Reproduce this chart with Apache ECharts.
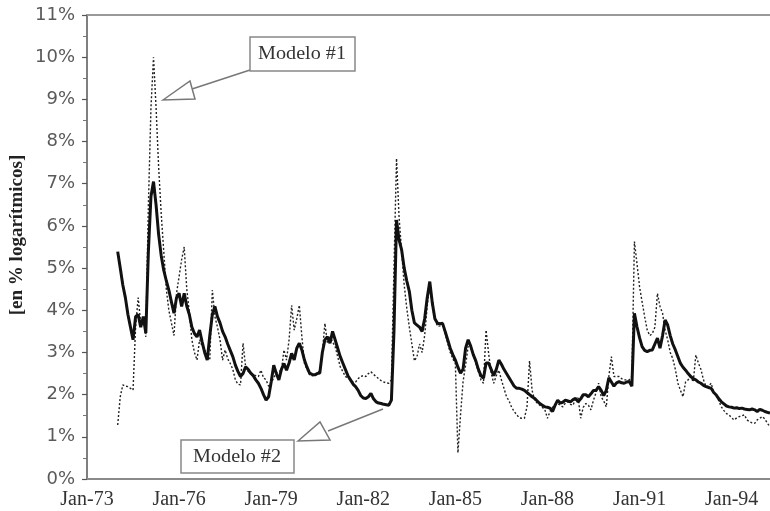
<!DOCTYPE html>
<html>
<head>
<meta charset="utf-8">
<script src="https://cdn.jsdelivr.net/npm/echarts@6/dist/echarts.min.js"></script>
<style>
  html, body { margin: 0; padding: 0; background: #fff; }
  #main { width: 770px; height: 511px; }
</style>
</head>
<body>
<div id="main"></div>
<script>
// month index counted from Jan-73 (0)
var startMonth = 12;
var endMonth = 267;
var xLabels = ["Jan-73", "Jan-76", "Jan-79", "Jan-82", "Jan-85", "Jan-88", "Jan-91", "Jan-94"];

// Modelo #1 (linea punteada), mensual desde Jan-74
var modelo1 = [
  1.28, 1.95, 2.23, 2.2, 2.19, 2.15, 2.11, 3.6, 4.3, 3.7, 3.8, 3.37,
  6.5, 8.8, 10.0, 8.8, 7.4, 6.3, 5.4, 4.5, 4.0, 3.7, 3.4, 4.4,
  4.8, 5.2, 5.5, 4.5, 3.95, 3.3, 3.0, 2.82, 3.3, 3.15, 3.06, 2.9,
  2.82, 4.48, 3.85, 3.6, 3.3, 2.82, 3.06, 2.85, 2.74, 2.6, 2.35, 2.25,
  2.23, 3.22, 2.66, 2.55, 2.51, 2.47, 2.45, 2.43, 2.58, 2.4, 2.35, 2.2,
  2.27, 2.4, 2.51, 2.55, 2.58, 3.06, 2.82, 3.3, 4.12, 3.53, 3.8, 4.12,
  3.37, 2.74, 2.6, 2.47, 2.45, 2.43, 2.5, 2.58, 3.0, 3.69, 3.22, 3.37,
  3.25, 3.14, 2.9, 2.66, 2.55, 2.43, 2.4, 2.35, 2.3, 2.3, 2.38, 2.43,
  2.45, 2.43, 2.5, 2.54, 2.48, 2.43, 2.38, 2.33, 2.3, 2.28, 2.27, 2.35,
  5.0, 7.6, 6.2, 5.4, 4.6, 4.05, 3.6, 3.2, 2.8, 2.9, 3.2, 3.0,
  3.4, 4.1, 4.64, 4.09, 3.8, 3.62, 3.63, 3.65, 3.45, 3.22, 3.0, 2.85,
  2.74, 0.62, 1.5, 2.3, 2.7, 3.14, 3.1, 2.95, 2.74, 2.55, 2.35, 2.27,
  3.53, 2.98, 2.51, 2.27, 2.45, 2.58, 2.35, 2.15, 1.95, 1.85, 1.7, 1.6,
  1.52, 1.45, 1.44, 1.44, 1.71, 2.8, 2.1, 1.87, 1.8, 1.75, 1.7, 1.64,
  1.44, 1.6, 1.7, 1.75, 1.79, 1.75, 1.71, 1.8, 1.83, 1.77, 1.75, 1.9,
  1.92, 1.44, 1.7, 1.79, 1.75, 1.64, 1.87, 2.05, 2.27, 1.95, 1.85, 1.71,
  2.43, 2.9, 2.43, 2.43, 2.43, 2.38, 2.35, 2.35, 2.35, 2.43, 5.63, 5.11,
  4.56, 4.2, 3.85, 3.53, 3.4, 3.45, 3.6, 4.4, 4.09, 3.93, 3.53, 3.3,
  3.0, 2.85, 2.6, 2.27, 2.1, 1.95, 2.3, 2.35, 2.43, 2.3, 2.94, 2.75,
  2.6, 2.35, 2.19, 2.2, 2.27, 2.05, 1.99, 1.85, 1.71, 1.62, 1.55, 1.52,
  1.45, 1.4, 1.45, 1.48, 1.5, 1.52, 1.4, 1.36, 1.33, 1.32, 1.4, 1.44,
  1.48, 1.42, 1.32, 1.24
];

// Modelo #2 (linea gruesa), mensual desde Jan-74
var modelo2 = [
  5.39, 5.0, 4.6, 4.3, 3.9, 3.6, 3.3, 3.85, 3.9, 3.6, 3.85, 3.46,
  5.4, 6.7, 7.05, 6.5, 5.8, 5.3, 4.95, 4.7, 4.48, 4.2, 3.93, 4.3,
  4.4, 4.09, 4.4, 4.1, 3.9, 3.6, 3.45, 3.37, 3.53, 3.25, 3.0, 2.82,
  3.4, 3.9, 4.09, 3.85, 3.7, 3.5, 3.37, 3.2, 3.05, 2.9, 2.7, 2.55,
  2.43, 2.5, 2.66, 2.6, 2.51, 2.45, 2.35, 2.27, 2.15, 2.0, 1.87, 1.95,
  2.3, 2.7, 2.5, 2.35, 2.6, 2.74, 2.58, 2.75, 2.98, 2.82, 3.1, 3.22,
  3.06, 2.82, 2.65, 2.51, 2.48, 2.47, 2.5, 2.51, 3.0, 3.3, 3.37, 3.22,
  3.5, 3.3, 3.1, 2.9, 2.75, 2.6, 2.45, 2.35, 2.25, 2.19, 2.1, 1.98,
  1.92, 1.91, 1.95, 2.03, 1.9, 1.83, 1.8, 1.79, 1.77, 1.76, 1.75, 1.87,
  3.5, 6.14, 5.67, 5.43, 5.0, 4.7, 4.45, 4.0, 3.7, 3.65, 3.6, 3.5,
  3.8, 4.3, 4.68, 4.17, 3.8, 3.69, 3.68, 3.69, 3.5, 3.3, 3.1, 2.95,
  2.82, 2.65, 2.51, 2.6, 3.1, 3.3, 3.15, 2.95, 2.8, 2.6, 2.45, 2.39,
  2.75, 2.75, 2.6, 2.45, 2.6, 2.82, 2.72, 2.6, 2.5, 2.4, 2.3, 2.2,
  2.15, 2.15, 2.13, 2.1, 2.05, 2.0, 1.95, 1.91, 1.85, 1.79, 1.75, 1.71,
  1.7, 1.68, 1.6, 1.75, 1.87, 1.8, 1.82, 1.87, 1.85, 1.83, 1.88, 1.91,
  1.83, 1.9, 2.0, 2.0, 1.95, 2.02, 2.1, 2.1, 2.19, 2.1, 1.98, 2.1,
  2.4, 2.3, 2.2, 2.28, 2.31, 2.28, 2.27, 2.3, 2.31, 2.2, 3.93, 3.61,
  3.35, 3.14, 3.05, 3.02, 3.05, 3.06, 3.2, 3.34, 3.1, 3.4, 3.77, 3.65,
  3.4, 3.2, 3.06, 2.9, 2.74, 2.65, 2.58, 2.5, 2.43, 2.38, 2.35, 2.3,
  2.27, 2.22, 2.19, 2.17, 2.15, 2.05, 1.99, 1.9, 1.83, 1.78, 1.73, 1.71,
  1.7, 1.68, 1.69, 1.67, 1.68, 1.66, 1.65, 1.64, 1.66, 1.64, 1.6, 1.65,
  1.63, 1.6, 1.58, 1.56
];

function toPairs(arr) {
  var out = [];
  arr.forEach(function (v, i) {
    out.push([startMonth + i, v]);
  });
  return out;
}

var chart = echarts.init(document.getElementById("main"));

var option = {
  animation: false,
  backgroundColor: "#fff",
  grid: { left: 87, top: 15, right: 0, bottom: 32 },
  xAxis: [
    {
      type: "value",
      min: 0,
      max: endMonth,
      interval: 36,
      axisLine: { show: true, lineStyle: { color: "#8a8a8a", width: 2 } },
      axisTick: { show: false },
      splitLine: { show: false },
      axisLabel: {
        margin: 11,
        showMaxLabel: false,
        fontFamily: "Liberation Serif",
        fontSize: 20,
        color: "#333",
        formatter: function (v) {
          var i = v / 36;
          return Number.isInteger(i) && xLabels[i] ? xLabels[i] : "";
        }
      }
    },
    {
      type: "value",
      position: "top",
      min: 0,
      max: endMonth,
      axisLine: { show: true, lineStyle: { color: "#999", width: 2 } },
      axisTick: { show: false },
      axisLabel: { show: false },
      splitLine: { show: false }
    }
  ],
  yAxis: {
    type: "value",
    min: 0,
    max: 11,
    interval: 1,
    axisLine: { show: true, lineStyle: { color: "#555", width: 1.5 } },
    axisTick: { show: true, length: 5, lineStyle: { color: "#555", width: 1.2 } },
    minorTick: { show: true, splitNumber: 2, length: 4, lineStyle: { color: "#777", width: 1 } },
    splitLine: { show: false },
    axisLabel: {
      margin: 12,
      fontFamily: "DejaVu Sans",
      fontSize: 18,
      color: "#5a5a5a",
      formatter: "{value}%"
    }
  },
  series: [
    {
      name: "Modelo #1",
      type: "line",
      data: toPairs(modelo1),
      showSymbol: false,
      lineStyle: { color: "#222", width: 1.4, type: [2, 2] },
      z: 2
    },
    {
      name: "Modelo #2",
      type: "line",
      data: toPairs(modelo2),
      showSymbol: false,
      lineStyle: { color: "#111", width: 3 },
      z: 3
    }
  ],
  graphic: [
    {
      type: "text",
      x: 17,
      y: 235,
      rotation: Math.PI / 2,
      style: {
        text: "[en % logarítmicos]",
        font: "bold 19px 'Liberation Serif'",
        fill: "#222",
        textAlign: "center",
        textVerticalAlign: "middle"
      }
    },
    // Modelo #1 callout
    {
      type: "line",
      shape: { x1: 192, y1: 89, x2: 250, y2: 70 },
      style: { stroke: "#777", lineWidth: 1.5 }
    },
    {
      type: "polygon",
      shape: { points: [[163, 100], [190, 81], [195, 99]] },
      style: { stroke: "#777", fill: "#fff", lineWidth: 1.5 }
    },
    {
      type: "rect",
      shape: { x: 250, y: 37, width: 105, height: 34 },
      style: { stroke: "#888", fill: "#fff", lineWidth: 1.5 }
    },
    {
      type: "text",
      x: 302,
      y: 54,
      scaleX: 1.12,
      style: {
        text: "Modelo #1",
        font: "18px 'Liberation Serif'",
        fill: "#333",
        textAlign: "center",
        textVerticalAlign: "middle"
      }
    },
    // Modelo #2 callout
    {
      type: "line",
      shape: { x1: 328, y1: 431, x2: 383, y2: 409 },
      style: { stroke: "#777", lineWidth: 1.5 }
    },
    {
      type: "polygon",
      shape: { points: [[298, 441], [320, 422], [330, 440]] },
      style: { stroke: "#777", fill: "#fff", lineWidth: 1.5 }
    },
    {
      type: "rect",
      shape: { x: 181, y: 440, width: 113, height: 33 },
      style: { stroke: "#888", fill: "#fff", lineWidth: 1.5 }
    },
    {
      type: "text",
      x: 237,
      y: 457,
      scaleX: 1.12,
      style: {
        text: "Modelo #2",
        font: "18px 'Liberation Serif'",
        fill: "#333",
        textAlign: "center",
        textVerticalAlign: "middle"
      }
    }
  ]
};

chart.setOption(option);
</script>
</body>
</html>
